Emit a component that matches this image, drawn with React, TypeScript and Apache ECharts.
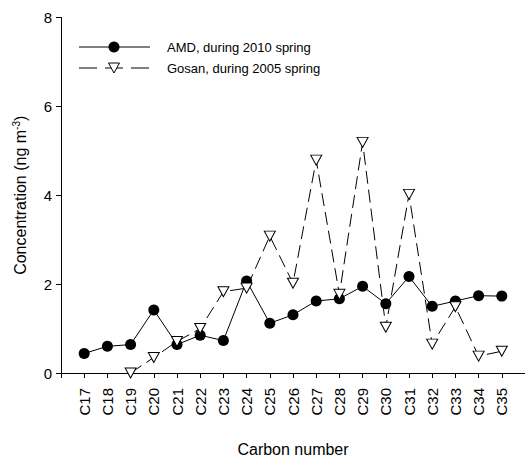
import React, { useEffect, useRef } from "react";
import * as echarts from "echarts";

const categories = ["C17","C18","C19","C20","C21","C22","C23","C24","C25","C26","C27","C28","C29","C30","C31","C32","C33","C34","C35"];
const amdValues = [0.44,0.60,0.64,1.42,0.64,0.85,0.73,2.07,1.12,1.31,1.62,1.67,1.95,1.56,2.17,1.50,1.62,1.74,1.73];
const gosanValues = [null,null,0.0,0.35,0.71,1.0,1.83,1.91,3.08,2.02,4.79,1.77,5.19,1.03,4.02,0.65,1.49,0.38,0.49];
const yTicks = { min: 0, max: 8, interval: 2 };
const seriesNames = ["AMD, during 2010 spring", "Gosan, during 2005 spring"];

export default function App() {
  const ref = useRef<HTMLDivElement>(null);
  useEffect(() => {
    if (!ref.current) return;
    const chart = echarts.init(ref.current, null, { renderer: "svg" });
    const font = "Arial, 'Liberation Sans', sans-serif";
    const xData = ["", ...categories, ""];
    const pad = (arr: (number | null)[]) => [null, ...arr, null];
    const lx0 = 79, lx1 = 150, lxc = 114, tx = 167, r1 = 47, r2 = 68;
    chart.setOption({
      animation: false,
      backgroundColor: "#fff",
      textStyle: { fontFamily: font, color: "#000" },
      grid: { left: 61, top: 17.5, width: 466, bottom: 83 },
      graphic: [
        { type: "line", shape: { x1: lx0, y1: r1, x2: lx1, y2: r1 }, style: { stroke: "#000", lineWidth: 1 } },
        { type: "circle", shape: { cx: lxc, cy: r1, r: 5.5 }, style: { fill: "#000" } },
        { type: "text", x: tx, y: r1, style: { text: seriesNames[0], fontFamily: font, fontSize: 13, fill: "#000", verticalAlign: "middle" } },
        { type: "line", shape: { x1: lx0, y1: r2, x2: lx1, y2: r2 }, style: { stroke: "#000", lineWidth: 1, lineDash: [18, 8] } },
        { type: "polygon", shape: { points: [[lxc - 5.5, r2 - 5], [lxc + 5.5, r2 - 5], [lxc, r2 + 5]] }, style: { fill: "#fff", stroke: "#000", lineWidth: 1 } },
        { type: "text", x: tx, y: r2, style: { text: seriesNames[1], fontFamily: font, fontSize: 13, fill: "#000", verticalAlign: "middle" } },
      ],
      xAxis: {
        type: "category",
        data: xData,
        boundaryGap: false,
        name: "Carbon number",
        nameLocation: "middle",
        nameGap: 68,
        nameTextStyle: { fontFamily: font, fontSize: 16, color: "#000" },
        axisLine: { lineStyle: { color: "#000", width: 1 } },
        axisTick: { show: true, length: 5, interval: 0, lineStyle: { color: "#000" } },
        axisLabel: { interval: 0, rotate: 90, margin: 15, fontFamily: font, fontSize: 15, color: "#000" },
        splitLine: { show: false },
      },
      yAxis: {
        type: "value",
        min: yTicks.min,
        max: yTicks.max,
        interval: yTicks.interval,
        name: "Concentration (ng m{sup|-3})",
        nameLocation: "middle",
        nameGap: 31,
        nameTextStyle: {
          fontFamily: font, fontSize: 16, color: "#000",
          rich: { sup: { fontFamily: font, fontSize: 10, color: "#000", verticalAlign: "top", padding: [0, 0, 9, 0] } },
        },
        axisLine: { show: true, lineStyle: { color: "#000", width: 1 } },
        axisTick: { show: true, length: 5, lineStyle: { color: "#000" } },
        axisLabel: { margin: 9, fontFamily: font, fontSize: 15, color: "#000" },
        splitLine: { show: false },
      },
      series: [
        {
          name: seriesNames[0],
          type: "line",
          data: pad(amdValues),
          symbol: "circle",
          symbolSize: 11,
          itemStyle: { color: "#000" },
          lineStyle: { color: "#000", width: 1 },
          z: 3,
        },
        {
          name: seriesNames[1],
          type: "line",
          data: pad(gosanValues),
          symbol: "triangle",
          symbolRotate: 180,
          symbolSize: [11, 10],
          itemStyle: { color: "#fff", borderColor: "#000", borderWidth: 1 },
          lineStyle: { color: "#000", width: 1, type: [13, 6] },
          z: 4,
        },
      ],
    });
    return () => chart.dispose();
  }, []);
  return <div ref={ref} style={{ width: 525, height: 462, position: "absolute", left: 0, top: 0 }} />;
}
